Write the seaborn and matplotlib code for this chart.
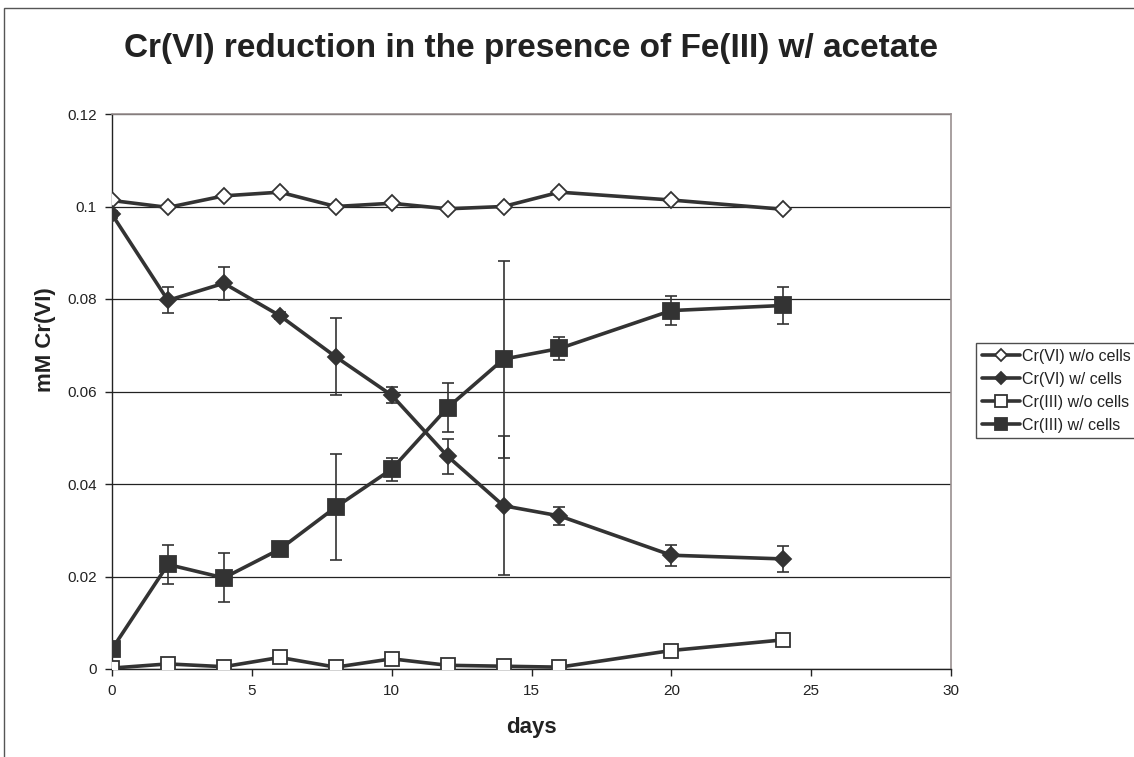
import numpy as np
import pandas as pd
import matplotlib
matplotlib.use("Agg")
import matplotlib.pyplot as plt
from matplotlib.ticker import FuncFormatter, MultipleLocator
from matplotlib.patches import Rectangle
import seaborn as sns

# Sampling days
days = [0, 2, 4, 6, 8, 10, 12, 14, 16, 20, 24]

# Cr(VI) without cells (abiotic control)
cr6_no_cells = [0.1013, 0.0998, 0.1023, 0.1031, 0.1000, 0.1007, 0.0995, 0.1000, 0.1031, 0.1014, 0.0994]

# Cr(VI) with cells, and standard deviation
cr6_cells = [0.0983, 0.0797, 0.0834, 0.0764, 0.0675, 0.0592, 0.0460, 0.0353, 0.0331, 0.0246, 0.0238]
cr6_cells_err = [0.0008, 0.0028, 0.0036, 0.0008, 0.0083, 0.0017, 0.0038, 0.0150, 0.0019, 0.0023, 0.0029]

# Cr(III) without cells (abiotic control)
cr3_no_cells = [0.0002, 0.0011, 0.0005, 0.0025, 0.0004, 0.0022, 0.0008, 0.0006, 0.0004, 0.0040, 0.0063]

# Cr(III) with cells, and standard deviation
cr3_cells = [0.0043, 0.0226, 0.0197, 0.0259, 0.0350, 0.0432, 0.0565, 0.0670, 0.0693, 0.0775, 0.0786]
cr3_cells_err = [0.0008, 0.0042, 0.0053, 0.0008, 0.0115, 0.0025, 0.0053, 0.0213, 0.0025, 0.0032, 0.0041]

series_labels = ["Cr(VI) w/o cells", "Cr(VI) w/ cells", "Cr(III) w/o cells", "Cr(III) w/ cells"]

sns.set_theme(style="white")
plt.rcParams["font.family"] = ["Liberation Sans", "DejaVu Sans"]

ink = "#333333"
text_color = "#222222"

fig = plt.figure(figsize=(11.34, 7.57), dpi=100)
ax = fig.add_axes([112 / 1134, 1 - 669 / 757, (951 - 112) / 1134, (669 - 114) / 757])

# outer chart border (only the top and left edges fall inside the canvas)
fig.patches.append(Rectangle((4 / 1134, -0.05), 1.2, 1 - 8 / 757 + 0.05,
                             transform=fig.transFigure, fill=False,
                             edgecolor="#555555", linewidth=1.0))

# error bars for the biotic series
ax.errorbar(days, cr6_cells, yerr=cr6_cells_err, fmt="none", ecolor=ink,
            elinewidth=1.2, capsize=4.5, capthick=1.2, zorder=2)
ax.errorbar(days, cr3_cells, yerr=cr3_cells_err, fmt="none", ecolor=ink,
            elinewidth=1.2, capsize=4.5, capthick=1.2, zorder=2)

line_kw = dict(color=ink, linewidth=2.6, markeredgecolor=ink, markeredgewidth=1.3, ax=ax)
sns.lineplot(x=days, y=cr6_no_cells, marker="D", markersize=7.8,
             markerfacecolor="white", label=series_labels[0], zorder=3, **line_kw)
sns.lineplot(x=days, y=cr6_cells, marker="D", markersize=7.8,
             markerfacecolor=ink, label=series_labels[1], zorder=3, **line_kw)
sns.lineplot(x=days, y=cr3_no_cells, marker="s", markersize=10.5,
             markerfacecolor="white", label=series_labels[2], zorder=4, **line_kw)
sns.lineplot(x=days, y=cr3_cells, marker="s", markersize=11,
             markerfacecolor=ink, label=series_labels[3], zorder=4, **line_kw)

ax.set_xlim(0, 30)
ax.set_ylim(0, 0.12)
ax.xaxis.set_major_locator(MultipleLocator(5))
ax.yaxis.set_major_locator(MultipleLocator(0.02))
ax.yaxis.set_major_formatter(FuncFormatter(lambda v, p: f"{v:g}" if abs(v) > 1e-12 else "0"))

ax.grid(axis="y", color="#222222", linewidth=0.9)
ax.grid(axis="x", visible=False)
ax.set_axisbelow(True)

for side in ["top", "right"]:
    ax.spines[side].set_color("#999090")
    ax.spines[side].set_linewidth(1.2)
for side in ["left", "bottom"]:
    ax.spines[side].set_color("#222222")
    ax.spines[side].set_linewidth(1.0)

ax.tick_params(axis="both", direction="out", length=5, width=1.0, color="#222222",
               labelsize=11, labelcolor=text_color, bottom=True, left=True, pad=6)

ax.set_xlabel("days", fontsize=16, fontweight="bold", color=text_color)
ax.xaxis.set_label_coords(0.5, -(728 - 669) / 555, transform=ax.transAxes)
ax.xaxis.label.set_va("center")
ax.set_ylabel("mM Cr(VI)", fontsize=16, fontweight="bold", color=text_color)
ax.yaxis.set_label_coords(45 / 1134, 1 - 340 / 757, transform=fig.transFigure)
ax.yaxis.label.set_va("center")

fig.suptitle("Cr(VI) reduction in the presence of Fe(III) w/ acetate",
             x=531.5 / 1134, y=1 - 48 / 757, va="center", ha="center",
             fontsize=24, fontweight="bold", color=text_color)

leg = ax.legend(loc="upper left", bbox_to_anchor=(976 / 1134, 1 - 343 / 757),
                bbox_transform=fig.transFigure, frameon=True, fancybox=False,
                fontsize=11.5, handlelength=2.4, handletextpad=0.15,
                labelspacing=0.5, borderpad=0.35, borderaxespad=0, markerscale=0.8)
leg.get_frame().set_edgecolor("#222222")
leg.get_frame().set_linewidth(1.0)
for t in leg.get_texts():
    t.set_color(text_color)

fig.savefig("out.png", dpi=100)
